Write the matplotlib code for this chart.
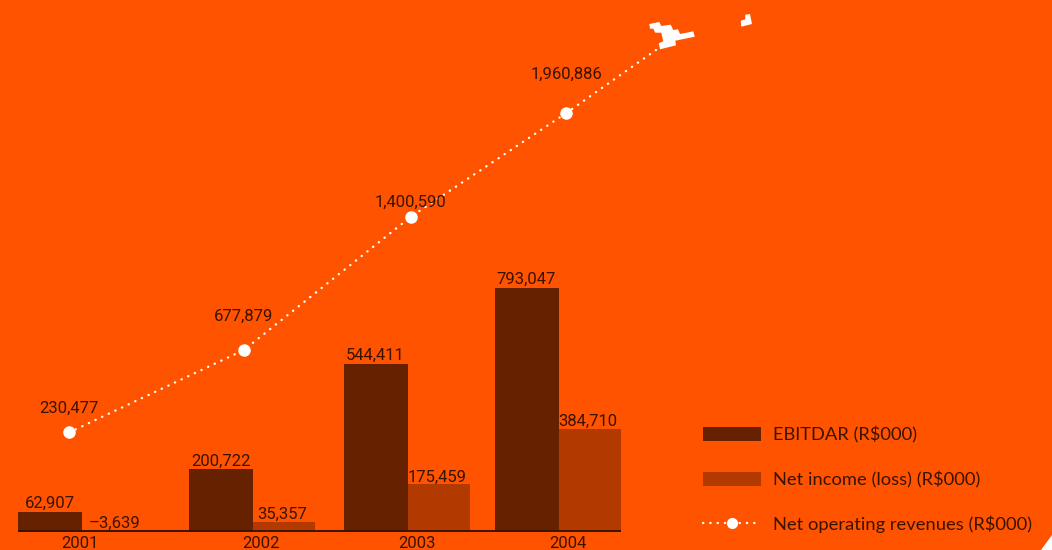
import matplotlib
matplotlib.use("Agg")
import matplotlib.pyplot as plt
from matplotlib.lines import Line2D
from matplotlib.patches import Patch, Polygon
from matplotlib.transforms import IdentityTransform

years = ["2001", "2002", "2003", "2004"]
ebitdar = [62907, 200722, 544411, 793047]
net_income = [-3639, 35357, 175459, 384710]
revenues = [230477, 677879, 1400590, 1960886]

BG = "#FF5300"
DARK = "#662200"
MID = "#B23A00"
TEXT = "#3A1300"
W, H = 1052, 550
BASE = 531  # pixel row of the zero line

ebitdar_left = [18, 189, 344, 495]
net_left = [81, 253, 408, 559]
year_x = [80, 261, 417, 568]
rev_x = [69, 244, 411, 566]
rev_label_up = [24, 34, 14, 39]


def value_axes(per_px, zero_row=BASE):
    # full-figure axes: x in pixels, y in data units at per_px units per pixel
    a = fig.add_axes([0, 0, 1, 1], frameon=False)
    a.set_xlim(0, W)
    a.set_ylim(-(H - zero_row) * per_px, zero_row * per_px)
    a.axis("off")
    return a


def fmt(v):
    return f"{v:,}".replace("-", "\u2013")


plt.rcParams["font.family"] = ["Roboto", "DejaVu Sans"]
fig = plt.figure(figsize=(W / 100, H / 100), dpi=100, facecolor=BG)

bar_ax = value_axes(3263)
net_ax = value_axes(3770)
rev_ax = value_axes(5420, zero_row=475)
deco = fig.add_axes([0, 0, 1, 1], frameon=False)
deco.set_xlim(0, W)
deco.set_ylim(H, 0)
deco.axis("off")

bar_ax.bar(ebitdar_left, ebitdar, width=63.5, align="edge", color=DARK)
net_ax.bar(net_left, net_income, width=62, align="edge", color=MID)
net_ax.plot([18, 621], [0, 0], color=TEXT, lw=1.4, solid_capstyle="butt")

for x, v in zip(ebitdar_left, ebitdar):
    bar_ax.annotate(fmt(v), (x + 31.5, v), xytext=(0, 1), textcoords="offset pixels",
                    ha="center", va="bottom", fontsize=12, color=TEXT)
for x, v in zip(net_left, net_income):
    net_ax.annotate(fmt(v), (x + 29 + (5 if v < 0 else 0), max(v, 0)), xytext=(0, 0), textcoords="offset pixels",
                    ha="center", va="bottom", fontsize=12, color=TEXT)
for x, label in zip(year_x, years):
    bar_ax.annotate(label, (x, 0), xytext=(0, -12), textcoords="offset pixels",
                    ha="center", va="center", fontsize=12, color=TEXT)

dots = (0, (0.1, 3.0))
rev_ax.plot(rev_x, revenues, color="white", lw=1.7, linestyle=dots, dash_capstyle="round")
rev_ax.plot(rev_x, revenues, linestyle="none", marker="o", ms=8, mfc="white", mec="white")
for x, v, up in zip(rev_x, revenues, rev_label_up):
    rev_ax.annotate(fmt(v), (x, v), xytext=(0, up), textcoords="offset pixels",
                    ha="center", va="center", fontsize=12, color=TEXT)

# dotted tail running up from the last point to the aeroplane
last_row = H - rev_ax.transData.transform((rev_x[-1], revenues[-1]))[1]
deco.plot([rev_x[-1], 656], [last_row, 50], color="white", lw=1.7, linestyle=dots, dash_capstyle="round")

plane = [(649.3, 24), (659.3, 22), (661.3, 26), (670.7, 24.7), (673.3, 30), (678, 29.3),
         (680, 34), (693.3, 31.3), (694.7, 36.7), (675.3, 40.7), (676, 45.3), (660, 49.3),
         (658.7, 43.3), (663.3, 41.3), (661.3, 32.7), (655.3, 32.7), (653.3, 28.7), (650, 28.7)]
plane_bit = [(740.7, 20.7), (745.3, 19.3), (745.3, 14.7), (750, 14), (752, 24), (741.3, 26.7)]
corner = [(1052, 535), (1052, 550), (1041, 550)]
for pts in (plane, plane_bit, corner):
    deco.add_patch(Polygon(pts, closed=True, fc="white", ec="none"))

handles = [
    Patch(fc=DARK, ec="none", label="EBITDAR (R$000)"),
    Patch(fc=MID, ec="none", label="Net income (loss) (R$000)"),
    Line2D([], [], color="white", lw=1.7, linestyle=dots, dash_capstyle="round",
           marker="o", ms=7, mfc="white", mec="white", label="Net operating revenues (R$000)"),
]
deco.legend(handles=handles, loc="lower left", bbox_to_anchor=(703, 17), bbox_transform=IdentityTransform(),
            frameon=False, prop={"family": "Lato", "size": 13.2}, labelcolor=TEXT, handlelength=3.17,
            handleheight=0.82, handletextpad=0.65, labelspacing=1.5, borderpad=0, borderaxespad=0, numpoints=1)

fig.savefig("out.png", dpi=100, facecolor=BG)
